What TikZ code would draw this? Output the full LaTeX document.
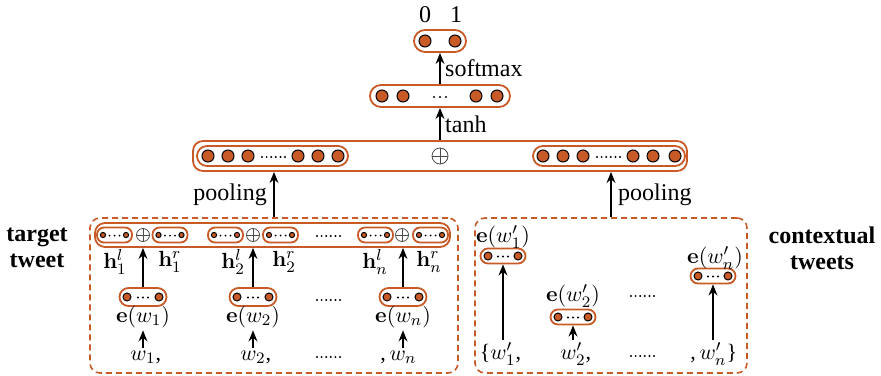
\documentclass[tikz,border=0pt]{standalone}
\usepackage[no-math]{fontspec}
\setmainfont{Liberation Serif}
\usetikzlibrary{arrows.meta,positioning,calc}
\definecolor{unitorange}{RGB}{200,90,40}

\begin{document}
\begin{tikzpicture}[x=0.5pt,y=-0.5pt,font=\fontsize{12}{13}\selectfont,
  layer/.style={draw=unitorange,line width=0.9pt,rounded corners=5.5pt,inner sep=0pt},
  pill/.style={draw=unitorange,line width=0.9pt,rounded corners=3.5pt,inner sep=0pt},
  tweetbox/.style={draw=unitorange,line width=0.8pt,dash pattern=on 3pt off 2pt,rounded corners=5pt,inner sep=0pt},
  unit/.style={fill=unitorange,draw=black,line width=0.5pt},
  plus/.style={circle,draw=black!70,line width=0.4pt,inner sep=0pt,minimum size=#1,
    path picture={\draw[black!70,line width=0.4pt]
      (path picture bounding box.north) -- (path picture bounding box.south)
      (path picture bounding box.west) -- (path picture bounding box.east);}},
  lbl/.style={inner sep=1pt,font=\fontsize{11}{13}\selectfont},
  up/.style={-{Stealth[length=5.5pt,width=4.4pt]},line width=1.2pt}]
  \useasboundingbox (0,0) rectangle (881,375);

  % output and hidden layers
  \node[inner sep=1pt] (zero) at (425,15) {0};
  \node[inner sep=1pt] (one) at (456,15) {1};
  \node[layer,minimum width=26pt,minimum height=11pt] (out) at (440,41) {};
  \foreach \x in {425,455} \filldraw[unit] (\x,41) circle (3pt);
  \node[layer,minimum width=70pt,minimum height=11pt] (hid) at (440,96) {};
  \foreach \x in {382,403,476,497} \filldraw[unit] (\x,96) circle (3pt);
  \foreach \x in {434,440,446} \fill (\x,97) circle (0.55pt);

  % concatenated representation
  \node[layer,minimum width=247pt,minimum height=15pt,rounded corners=5pt] (concat) at (440,156) {};
  \node[pill,minimum width=75.5pt,minimum height=10pt,rounded corners=5pt] (poolL) at (272.5,156) {};
  \node[pill,minimum width=76pt,minimum height=10pt,rounded corners=5pt] (poolR) at (609,156) {};
  \foreach \x in {208,228,248,298,318,338,543,563,583,633,653,675} \filldraw[unit] (\x,156) circle (3pt);
  \foreach \i in {0,...,5} {
    \fill (262+4.6*\i,157) circle (0.55pt);
    \fill (597+4.6*\i,157) circle (0.55pt);
  }
  \node[plus=8pt] (cat) at (440,156) {};

  \draw[up] (hid.north) -- node[right,inner sep=2pt] {softmax} (out.south);
  \draw[up] (concat.north) -- node[right,inner sep=2pt] {tanh} (hid.south);

  % tweet boxes
  \node[tweetbox,minimum width=184pt,minimum height=77.5pt] (tgt) at (274,295.5) {};
  \node[tweetbox,minimum width=136pt,minimum height=77.5pt] (ctx) at (611,295.5) {};
  \draw[up] (tgt.north) -- node[left,inner sep=3pt] {pooling} (tgt.north |- concat.south);
  \draw[up] (ctx.north) -- node[right,inner sep=3pt] {pooling} (ctx.north |- concat.south);

  \node[align=center,font=\fontsize{12}{13}\selectfont\bfseries] (tgtlbl) at (37,248) {target\\tweet};
  \node[align=center,font=\fontsize{12}{13}\selectfont\bfseries] (ctxlbl) at (822,248) {contextual\\tweets};

  % target tweet: recurrent states
  \node[layer,minimum width=177.5pt,minimum height=12pt,rounded corners=5pt] (hrow) at (272.5,235) {};
  \foreach \x/\n in {114.5/hl1,170/hr1,225.5/hl2,280.5/hr2,375.5/hln,430.5/hrn} {
    \node[pill,minimum width=17.5pt,minimum height=7.5pt] (\n) at (\x,235) {};
    \filldraw[unit] (\x-11.5,235) circle (1.3pt);
    \filldraw[unit] (\x+11.5,235) circle (1.3pt);
    \foreach \d in {-5,0,5} \fill (\x+\d,235.5) circle (0.5pt);
  }
  \foreach \x/\n in {143/op1,253/op2,402/opn} \node[plus=6.5pt] (\n) at (\x,235) {};
  \foreach \i in {0,...,5} \fill (317+4.6*\i,236) circle (0.55pt);

  \node[lbl] (hl1t) at (115,262) {$\mathbf{h}_1^l$};
  \node[lbl] (hr1t) at (170,262) {$\mathbf{h}_1^r$};
  \node[lbl] (hl2t) at (233,262) {$\mathbf{h}_2^l$};
  \node[lbl] (hr2t) at (284,262) {$\mathbf{h}_2^r$};
  \node[lbl] (hlnt) at (375,262) {$\mathbf{h}_n^l$};
  \node[lbl] (hrnt) at (429,262) {$\mathbf{h}_n^r$};

  % target tweet: word embeddings
  \foreach \x/\n in {143/e1,253/e2,403/en} {
    \node[pill,minimum width=23.5pt,minimum height=9pt,rounded corners=4.5pt] (\n) at (\x,297) {};
    \filldraw[unit] (\x-16,297) circle (2pt);
    \filldraw[unit] (\x+16,297) circle (2pt);
    \foreach \d in {-5,0,5} \fill (\x+\d,297.5) circle (0.55pt);
    \draw[up] (\n.north) -- (\n.north |- hrow.south);
  }
  \foreach \i in {0,...,5} {
    \fill (317+4.6*\i,300) circle (0.55pt);
    \fill (317+4.6*\i,357) circle (0.55pt);
  }
  \node[lbl] (el1) at (143,317) {$\mathbf{e}(w_1)$};
  \node[lbl] (el2) at (253,317) {$\mathbf{e}(w_2)$};
  \node[lbl] (eln) at (403,317) {$\mathbf{e}(w_n)$};
  \node[lbl] (w1) at (143,357) {$w_1\rlap{,}$};
  \node[lbl] (w2) at (253,357) {$w_2\rlap{,}$};
  \node[lbl] (wn) at (403,357) {$\llap{,\,}w_n$};
  \draw[up] (w1.north) -- (el1.south);
  \draw[up] (w2.north) -- (el2.south);
  \draw[up] (wn.north) -- (eln.south);

  % contextual tweets
  \foreach \x/\y/\n in {503/256/ec1,573/317/ec2,713/276/ecn} {
    \node[pill,minimum width=22.5pt,minimum height=7.5pt,rounded corners=3.75pt] (\n) at (\x,\y) {};
    \filldraw[unit] (\x-15,\y) circle (2pt);
    \filldraw[unit] (\x+15,\y) circle (2pt);
    \foreach \d in {-5,0,5} \fill (\x+\d,\y+0.5) circle (0.55pt);
  }
  \foreach \i in {0,...,5} {
    \fill (631+4.6*\i,296) circle (0.55pt);
    \fill (631+4.6*\i,356) circle (0.55pt);
  }
  \node[lbl] (ecl1) at (503,237) {$\mathbf{e}(w_1')$};
  \node[lbl] (ecl2) at (573,296) {$\mathbf{e}(w_2')$};
  \node[lbl] (ecln) at (715,258) {$\mathbf{e}(w_n')$};
  \node[lbl] (wc1) at (503,354) {$\llap{\{}w_1'\rlap{,}$};
  \node[lbl] (wc2) at (573,354) {$w_2'\rlap{,}$};
  \node[lbl] (wcn) at (713,354) {$\llap{,\,}w_n'\rlap{\}}$};
  \draw[up] (wc1.north) -- (ec1.south);
  \draw[up] (wc2.north) -- (ec2.south);
  \draw[up] (wcn.north) -- (ecn.south);
\end{tikzpicture}
\end{document}
